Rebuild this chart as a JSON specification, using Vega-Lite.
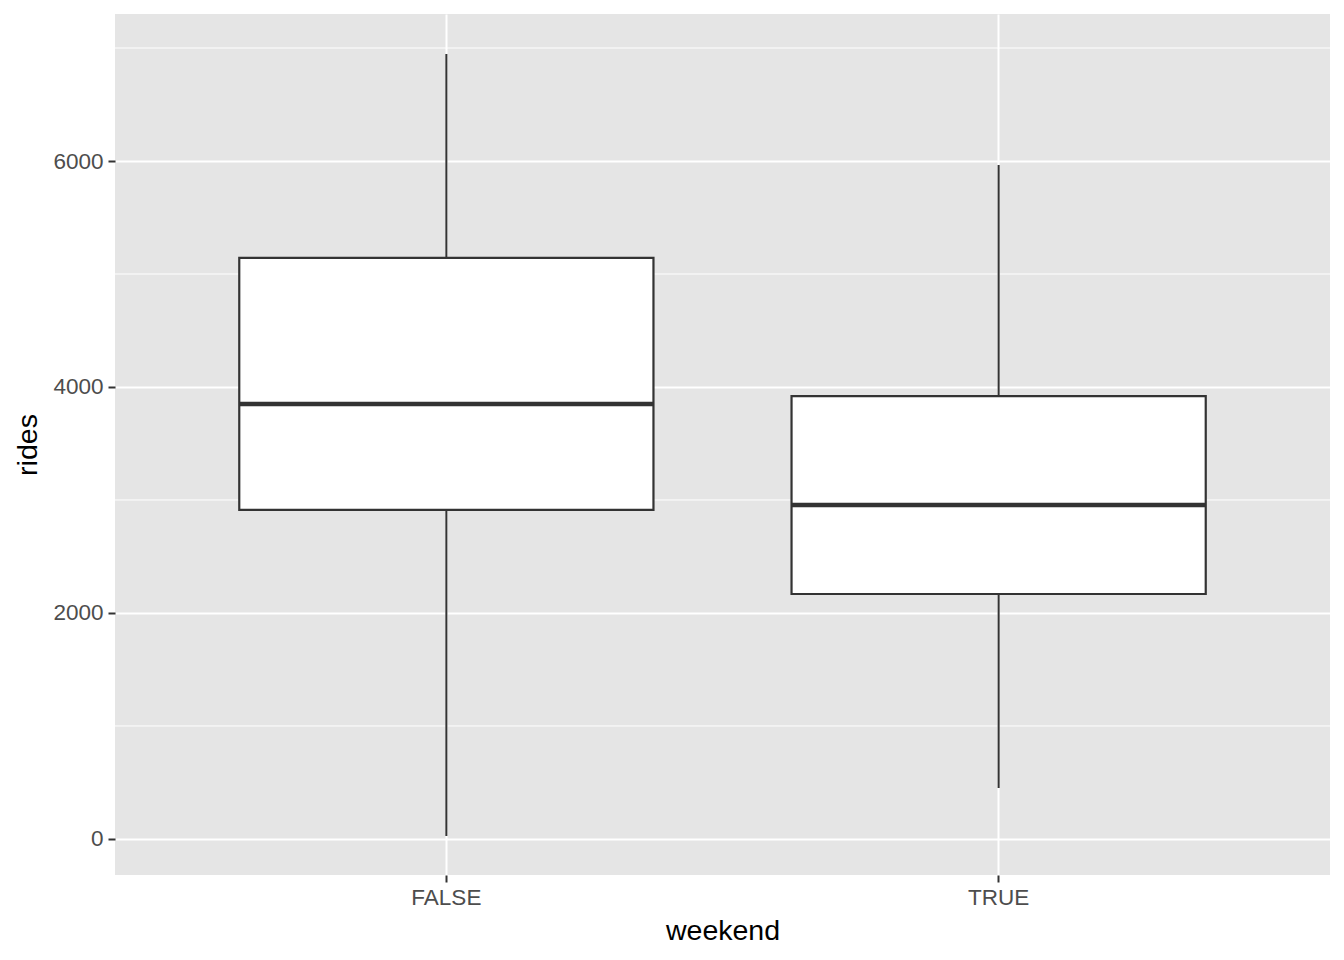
{
  "$schema": "https://vega.github.io/schema/vega-lite/v6.json",
  "width": 1215,
  "height": 861,
  "autosize": {"type": "none"},
  "padding": {"left": 115, "top": 14, "right": 14, "bottom": 85},
  "background": "white",
  "config": {
    "font": "Liberation Sans",
    "view": {"fill": "#E5E5E5", "stroke": null},
    "axis": {
      "domain": false,
      "grid": true,
      "gridColor": "white",
      "gridWidth": 2,
      "tickColor": "#333333",
      "tickSize": 7,
      "tickWidth": 2,
      "labelColor": "#4D4D4D",
      "labelFontSize": 22.5,
      "titleColor": "black",
      "titleFontSize": 28.5,
      "titleFontWeight": "normal"
    }
  },
  "datasets": {
    "stats": [
      {"weekend": "FALSE", "min": 27, "q1": 2912, "median": 3850, "q3": 5142, "max": 6947},
      {"weekend": "TRUE", "min": 451, "q1": 2168, "median": 2956, "q3": 3920, "max": 5965}
    ],
    "minor": [{"v": 1000}, {"v": 3000}, {"v": 5000}, {"v": 7000}]
  },
  "layer": [
    {
      "data": {"name": "minor"},
      "mark": {"type": "rule", "color": "white", "strokeWidth": 1},
      "encoding": {
        "y": {"field": "v", "type": "quantitative", "scale": {"domain": [-319, 7301], "nice": false, "zero": false},
          "axis": {"values": [0, 2000, 4000, 6000], "format": "d", "title": "rides", "labelPadding": 5, "titlePadding": 10, "labelFlush": false}}
      }
    },
    {
      "data": {"name": "stats"},
      "mark": {"type": "rule", "color": "#333333", "strokeWidth": 2},
      "encoding": {
        "x": {"field": "weekend", "type": "nominal", "sort": ["FALSE", "TRUE"],
          "scale": {"paddingInner": 0.25, "paddingOuter": 0.225},
          "axis": {"bandPosition": 0.5, "grid": true, "labelAngle": 0, "title": "weekend", "labelPadding": 4, "titlePadding": 8}},
        "y": {"field": "min", "type": "quantitative"},
        "y2": {"field": "max"}
      }
    },
    {
      "data": {"name": "stats"},
      "mark": {"type": "bar", "fill": "white", "stroke": "#333333", "strokeWidth": 2.2},
      "encoding": {
        "x": {"field": "weekend", "type": "nominal", "sort": ["FALSE", "TRUE"]},
        "y": {"field": "q1", "type": "quantitative"},
        "y2": {"field": "q3"}
      }
    },
    {
      "data": {"name": "stats"},
      "mark": {"type": "tick", "orient": "horizontal", "color": "#333333", "size": 414, "thickness": 4.5, "opacity": 1},
      "encoding": {
        "x": {"field": "weekend", "type": "nominal", "sort": ["FALSE", "TRUE"]},
        "y": {"field": "median", "type": "quantitative"}
      }
    }
  ]
}
